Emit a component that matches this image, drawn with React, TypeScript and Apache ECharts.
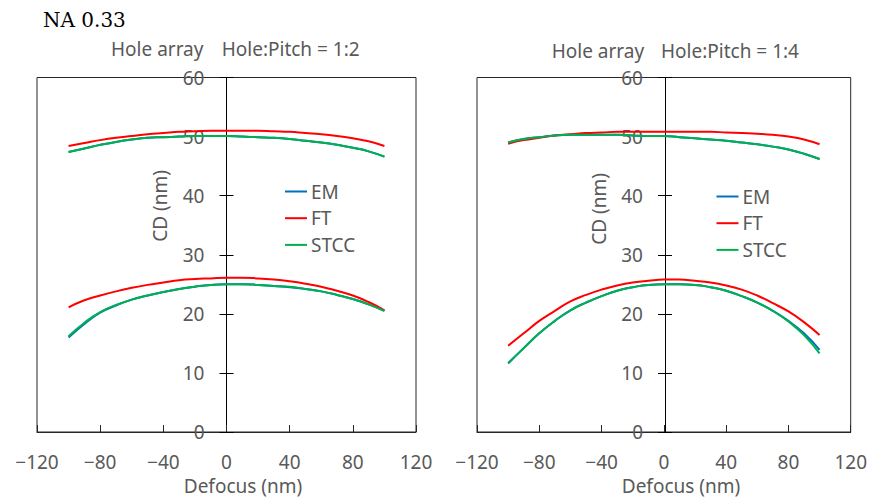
import React, { useEffect, useRef } from "react";
import * as echarts from "echarts";

// ---- data ----
const defocus = [-100, -90, -80, -70, -60, -50, -40, -30, -20, -10, 0, 10, 20, 30, 40, 50, 60, 70, 80, 90, 100];
const xTicks = [-120, -80, -40, 0, 40, 80, 120];
const yTicks = [0, 10, 20, 30, 40, 50, 60];
const seriesNames = ["EM", "FT", "STCC"];
const subtitles = [["Hole array", "Hole:Pitch = 1:2"], ["Hole array", "Hole:Pitch = 1:4"]];

// Left chart (Hole:Pitch = 1:2)
const leftUpperEM = [47.4, 48.0, 48.6, 49.1, 49.5, 49.8, 49.9, 50.0, 50.1, 50.1, 50.1, 50.0, 49.9, 49.8, 49.6, 49.3, 49.0, 48.6, 48.1, 47.5, 46.6];
const leftUpperFT = [48.4, 48.9, 49.4, 49.8, 50.1, 50.4, 50.6, 50.8, 50.9, 51.0, 51.0, 51.0, 51.0, 50.9, 50.8, 50.6, 50.4, 50.1, 49.7, 49.2, 48.4];
const leftUpperSTCC = [47.4, 48.0, 48.6, 49.1, 49.5, 49.8, 49.9, 50.0, 50.1, 50.1, 50.1, 50.0, 49.9, 49.8, 49.6, 49.3, 49.0, 48.6, 48.1, 47.5, 46.6];
const leftLowerEM = [16.0, 18.3, 20.2, 21.4, 22.4, 23.1, 23.7, 24.2, 24.6, 24.9, 25.0, 25.0, 24.9, 24.7, 24.5, 24.2, 23.8, 23.2, 22.5, 21.6, 20.5];
const leftLowerFT = [21.1, 22.3, 23.1, 23.8, 24.4, 24.9, 25.3, 25.7, 25.9, 26.0, 26.1, 26.1, 26.0, 25.8, 25.5, 25.1, 24.6, 23.9, 23.1, 22.0, 20.6];
const leftLowerSTCC = [16.2, 18.5, 20.3, 21.5, 22.4, 23.1, 23.7, 24.2, 24.6, 24.9, 25.0, 25.0, 24.9, 24.7, 24.6, 24.2, 23.8, 23.2, 22.5, 21.6, 20.5];

// Right chart (Hole:Pitch = 1:4)
const rightUpperEM = [49.0, 49.6, 49.9, 50.2, 50.3, 50.3, 50.3, 50.3, 50.2, 50.1, 50.1, 49.9, 49.7, 49.5, 49.3, 49.0, 48.7, 48.3, 47.8, 47.1, 46.2];
const rightUpperFT = [48.8, 49.4, 49.8, 50.2, 50.4, 50.6, 50.7, 50.8, 50.8, 50.8, 50.8, 50.8, 50.8, 50.8, 50.7, 50.6, 50.5, 50.3, 50.0, 49.5, 48.7];
const rightUpperSTCC = [49.0, 49.6, 49.9, 50.2, 50.3, 50.3, 50.3, 50.3, 50.2, 50.1, 50.1, 49.9, 49.7, 49.5, 49.3, 49.0, 48.7, 48.3, 47.8, 47.1, 46.2];
const rightLowerEM = [11.6, 14.2, 16.7, 18.8, 20.6, 21.9, 23.0, 23.9, 24.5, 24.9, 25.0, 25.0, 24.9, 24.5, 23.9, 23.0, 21.9, 20.5, 18.8, 16.7, 13.9];
const rightLowerFT = [14.6, 16.7, 18.8, 20.5, 22.1, 23.2, 24.1, 24.8, 25.3, 25.6, 25.8, 25.8, 25.6, 25.3, 24.8, 24.1, 23.1, 21.8, 20.4, 18.6, 16.4];
const rightLowerSTCC = [11.7, 14.2, 16.7, 18.8, 20.6, 21.9, 23.0, 23.9, 24.5, 24.9, 25.0, 25.0, 24.9, 24.5, 23.9, 23.0, 21.9, 20.5, 18.7, 16.4, 13.3];

const colors: Record<string, string> = { EM: "#0070C0", FT: "#FF0000", STCC: "#00B050" };

const GRAY = "#595959";
const FONT = "'Noto Sans', sans-serif";

const pairs = (vals: number[]) => defocus.map((d, i) => [d, vals[i]]);

export default function App() {
  const ref = useRef<HTMLDivElement>(null);
  useEffect(() => {
    if (!ref.current) return;
    const chart = echarts.init(ref.current, null, { renderer: "svg" });

    const grids = [
      { left: 37, top: 77.5, width: 379, height: 354.5 },
      { left: 477, top: 77.5, width: 376, height: 354.5 },
    ];

    const xAxes = grids.map((_, gi) => ({
      type: "value",
      gridIndex: gi,
      min: xTicks[0],
      max: xTicks[xTicks.length - 1],
      interval: 40,
      axisLine: { show: true, onZero: false, lineStyle: { color: "#262626", width: 1 } },
      axisTick: { show: true, inside: true, length: 7, lineStyle: { color: "#262626" } },
      axisLabel: {
        color: GRAY,
        fontSize: 19,
        fontFamily: FONT,
        margin: 20,
        formatter: (v: number) => String(v).replace("-", "\u2212"),
      },
      splitLine: { show: false },
    }));

    // the vertical axis sits at defocus = 0, i.e. half the grid width in from the left edge
    const yAxes: any[] = [];
    grids.forEach((g, gi) => {
      const off = -g.width / 2;
      yAxes.push({
        type: "value",
        gridIndex: gi,
        position: "left",
        offset: off,
        min: yTicks[0],
        max: yTicks[yTicks.length - 1],
        interval: 10,
        axisLine: { show: true, onZero: false, lineStyle: { color: "#000", width: 1 } },
        axisTick: { show: true, inside: false, length: 7, lineStyle: { color: "#000" } },
        axisLabel: { color: GRAY, fontSize: 19, fontFamily: FONT, margin: 22 },
        splitLine: { show: false },
      });
      yAxes.push({
        type: "value",
        gridIndex: gi,
        position: "left",
        offset: off,
        min: yTicks[0],
        max: yTicks[yTicks.length - 1],
        interval: 10,
        axisLine: { show: false, onZero: false },
        axisTick: { show: true, inside: true, length: 7, lineStyle: { color: "#000" } },
        axisLabel: { show: false },
        splitLine: { show: false },
      });
    });

    const chartData = [
      { EM: [leftUpperEM, leftLowerEM], FT: [leftUpperFT, leftLowerFT], STCC: [leftUpperSTCC, leftLowerSTCC] },
      { EM: [rightUpperEM, rightLowerEM], FT: [rightUpperFT, rightLowerFT], STCC: [rightUpperSTCC, rightLowerSTCC] },
    ];

    const series: any[] = [];
    chartData.forEach((cd: any, gi) => {
      seriesNames.forEach((name) => {
        cd[name].forEach((vals: number[]) => {
          series.push({
            type: "line",
            name,
            xAxisIndex: gi,
            yAxisIndex: gi * 2,
            data: pairs(vals),
            smooth: 0.5,
            symbol: "none",
            lineStyle: { color: colors[name], width: 2 },
            itemStyle: { color: colors[name] },
          });
        });
      });
    });

    const legends = [
      { left: 285, top: 181.5 },
      { left: 716.5, top: 186.5 },
    ].map((p) => ({
      ...p,
      orient: "vertical",
      padding: 0,
      data: seriesNames,
      icon: "rect",
      itemWidth: 22,
      itemHeight: 2,
      itemGap: 6.7,
      selectedMode: false,
      textStyle: { color: GRAY, fontSize: 19, fontFamily: FONT, lineHeight: 20, padding: [0, 0, 0, -1] },
    }));

    const graphic: any[] = [
      {
        type: "text",
        x: 43,
        y: 19.5,
        style: { text: "NA 0.33", fill: "#000", font: "20px 'DejaVu Serif', serif", verticalAlign: "middle", align: "left" },
      },
      { type: "text", x: 111, y: 49, style: { text: subtitles[0][0], fill: GRAY, font: `19px ${FONT}`, verticalAlign: "middle" } },
      { type: "text", x: 221.7, y: 49, style: { text: subtitles[0][1], fill: GRAY, font: `19px ${FONT}`, verticalAlign: "middle" } },
      { type: "text", x: 551.7, y: 51, style: { text: subtitles[1][0], fill: GRAY, font: `19px ${FONT}`, verticalAlign: "middle" } },
      { type: "text", x: 661, y: 51, style: { text: subtitles[1][1], fill: GRAY, font: `19px ${FONT}`, verticalAlign: "middle" } },
      { type: "text", x: 243, y: 485.5, style: { text: "Defocus (nm)", fill: GRAY, font: `19px ${FONT}`, align: "center", verticalAlign: "middle" } },
      { type: "text", x: 681, y: 485.5, style: { text: "Defocus (nm)", fill: GRAY, font: `19px ${FONT}`, align: "center", verticalAlign: "middle" } },
      { type: "text", x: 160, y: 206, rotation: Math.PI / 2, style: { text: "CD (nm)", fill: GRAY, font: `19px ${FONT}`, align: "center", verticalAlign: "middle" } },
      { type: "text", x: 599, y: 209, rotation: Math.PI / 2, style: { text: "CD (nm)", fill: GRAY, font: `19px ${FONT}`, align: "center", verticalAlign: "middle" } },
    ];

    chart.setOption({
      animation: false,
      backgroundColor: "#fff",
      grid: grids.map((g) => ({ ...g, show: true, borderColor: "#262626", borderWidth: 1, backgroundColor: "transparent", containLabel: false })),
      xAxis: xAxes,
      yAxis: yAxes,
      legend: legends,
      series,
      graphic,
    });

    return () => chart.dispose();
  }, []);

  return <div ref={ref} style={{ position: "fixed", left: 0, top: 0, width: 870, height: 498 }} />;
}
